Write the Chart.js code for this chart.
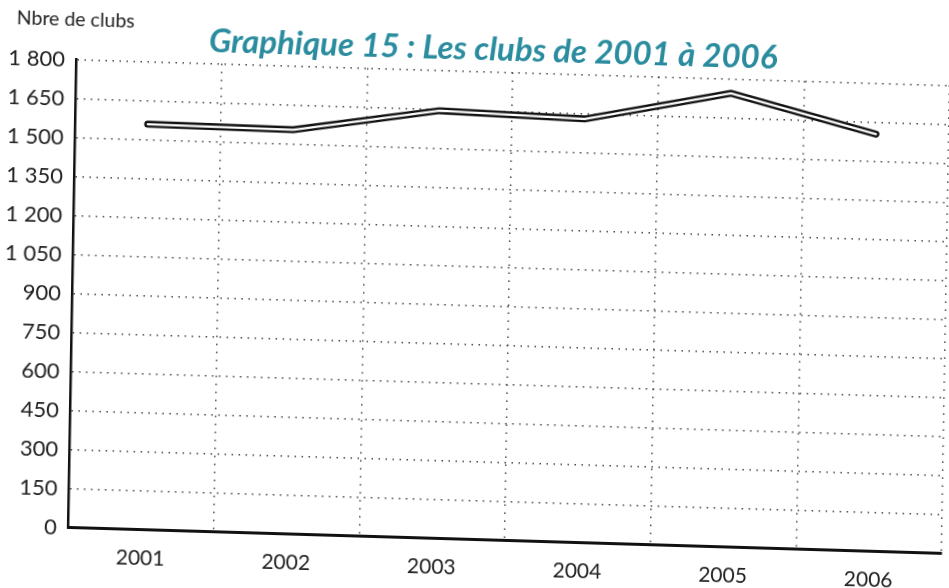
<!DOCTYPE html>
<html>
<head>
<meta charset="utf-8">
<script src="https://cdn.jsdelivr.net/npm/chart.js@4"></script>
<style>
  html, body { margin: 0; padding: 0; background: #fff; overflow: hidden; }
  #wrap {
    width: 960px; height: 588px; position: relative;
    /* the source is a slightly tilted scan */
    transform-origin: 76px 60px;
    transform: rotate(1deg) skewY(0.7deg);
  }
</style>
</head>
<body>
<div id="wrap"><canvas id="chart" width="960" height="588"></canvas></div>
<script>
// Data
const years = ['2001', '2002', '2003', '2004', '2005', '2006'];
const clubs = [1560, 1555, 1645, 1630, 1745, 1605];
const yTickLabels = ['0', '150', '300', '450', '600', '750', '900', '1 050', '1 200', '1 350', '1 500', '1 650', '1 800'];

const textFont = 'Lato, "Open Sans", sans-serif';

// Unit label above the y axis, plus a fix so the y labels may use the left padding
const unitLabel = {
  id: 'unitLabel',
  afterLayout(chart) {
    chart.scales.y.left = 0;
  },
  afterDraw(chart) {
    const ctx = chart.ctx;
    ctx.save();
    ctx.font = '19.5px ' + textFont;
    ctx.fillStyle = '#222';
    ctx.textBaseline = 'alphabetic';
    ctx.fillText('Nbre de clubs', 16, 26);
    ctx.restore();
  }
};

const ctx = document.getElementById('chart').getContext('2d');
new Chart(ctx, {
  type: 'line',
  data: {
    labels: years,
    datasets: [
      {
        // white core drawn over the black outline -> double line
        data: clubs,
        borderColor: '#ffffff',
        borderWidth: 2.2,
        pointRadius: 0,
        borderJoinStyle: 'miter',
        borderCapStyle: 'round',
        order: 0
      },
      {
        data: clubs,
        borderColor: '#111111',
        borderWidth: 7,
        pointRadius: 0,
        borderJoinStyle: 'miter',
        borderCapStyle: 'round',
        order: 1
      }
    ]
  },
  options: {
    responsive: false,
    animation: false,
    // left padding only pushes the title to the right; the y axis is shrunk back below
    layout: { padding: { left: 36, right: 10, top: 0, bottom: 3 } },
    plugins: {
      legend: { display: false },
      tooltip: { enabled: false },
      title: {
        display: true,
        text: 'Graphique 15 : Les clubs de 2001 à 2006',
        color: '#2a8c9e',
        font: { family: textFont, size: 33, weight: 'bold', style: 'italic' },
        padding: { top: 18, bottom: 2 }
      }
    },
    scales: {
      x: {
        offset: true,
        grid: {
          offset: true,
          drawTicks: false,
          color: '#444',
          lineWidth: 1.5
        },
        border: { display: true, color: '#111', width: 3, dash: [1.5, 6.5] },
        ticks: {
          color: '#222',
          padding: 16,
          font: { family: textFont, size: 21 }
        }
      },
      y: {
        min: 0,
        max: 1800,
        afterFit: (scale) => { scale.width = 40; },
        grid: {
          drawTicks: false,
          color: '#444',
          lineWidth: 1.5
        },
        border: { display: true, color: '#111', width: 2.5, dash: [1.5, 5.5] },
        ticks: {
          stepSize: 150,
          color: '#222',
          padding: 11,
          font: { family: textFont, size: 22 },
          callback: (value) => yTickLabels[Math.round(value / 150)]
        }
      }
    }
  },
  plugins: [unitLabel]
});
</script>
</body>
</html>
